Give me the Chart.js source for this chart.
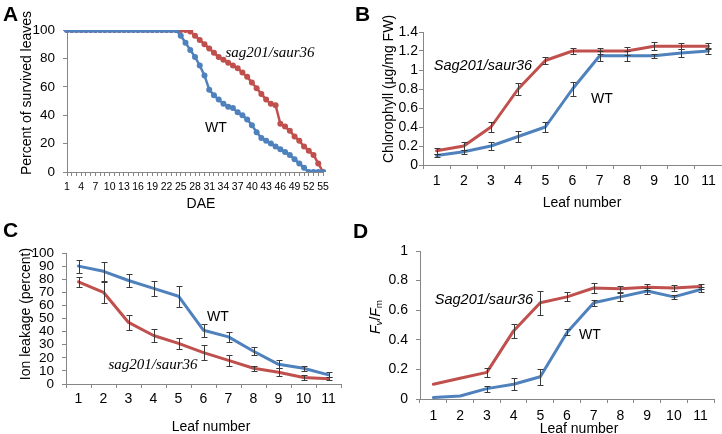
<!DOCTYPE html>
<html>
<head>
<meta charset="utf-8">
<script src="https://cdn.jsdelivr.net/npm/chart.js@4.4.1/dist/chart.umd.min.js"></script>
<style>
  body { margin: 0; width: 722px; height: 434px; background: #fff; position: relative; overflow: hidden;
         font-family: Arial, "Liberation Sans", sans-serif; color: #000; }
  canvas { position: absolute; }
  .t { position: absolute; white-space: nowrap; line-height: 1; transform: translate(-50%, -50%); font-size: 14px; }
  .rot { transform: translate(-50%, -50%) rotate(-90deg); }
  .letter { position: absolute; font-weight: bold; font-size: 21px; line-height: 1; }
  .serif { font-family: "Liberation Serif", "Times New Roman", serif; font-style: italic; font-size: 15px; }
  .ital { font-style: italic; font-size: 14.5px; }
  sub { font-size: 70%; vertical-align: -0.25em; line-height: 0; }
</style>
</head>
<body>

<canvas id="chartA" width="361" height="217" style="left:0;top:0"></canvas>
<canvas id="chartB" width="361" height="217" style="left:361px;top:0"></canvas>
<canvas id="chartC" width="361" height="217" style="left:0;top:217px"></canvas>
<canvas id="chartD" width="361" height="217" style="left:361px;top:217px"></canvas>

<!-- panel letters -->
<div class="letter" style="left:3px;top:3px">A</div>
<div class="letter" style="left:355px;top:3px">B</div>
<div class="letter" style="left:3px;top:219px">C</div>
<div class="letter" style="left:353px;top:220px">D</div>

<!-- axis titles -->
<div class="t rot" style="left:26px;top:93px">Percent of survived leaves</div>
<div class="t" style="left:201px;top:203px">DAE</div>
<div class="t rot" style="left:388px;top:89px">Chlorophyll (µg/mg FW)</div>
<div class="t" style="left:582px;top:202px">Leaf number</div>
<div class="t rot" style="left:25px;top:314px">Ion leakage (percent)</div>
<div class="t" style="left:211px;top:426px">Leaf number</div>
<div class="t rot" style="left:375px;top:317px"><i>F</i><sub><i>v</i></sub>/<i>F</i><sub>m</sub></div>
<div class="t" style="left:579px;top:428px">Leaf number</div>

<!-- series labels -->
<div class="t serif" style="left:270px;top:52px">sag201/saur36</div>
<div class="t" style="left:216px;top:127px">WT</div>
<div class="t ital" style="left:483px;top:65px">Sag201/saur36</div>
<div class="t" style="left:602px;top:98px">WT</div>
<div class="t" style="left:218px;top:316px">WT</div>
<div class="t serif" style="left:153px;top:364px">sag201/saur36</div>
<div class="t ital" style="left:484px;top:299px">Sag201/saur36</div>
<div class="t" style="left:590px;top:334px">WT</div>

<script>
// Colours
const RED = '#C0504D';
const BLUE = '#4F81BD';
const AXIS_GRAY = '#868686';
const FONT = 'Arial, "Liberation Sans", sans-serif';

// Panel A - percent of survived leaves vs DAE
const daysA = [1, 2, 3, 4, 5, 6, 7, 8, 9, 10, 11, 12, 13, 14, 15, 16, 17, 18, 19, 20,
    21, 22, 23, 24, 25, 26, 27, 28, 29, 30, 31, 32, 33, 34, 35, 36, 37, 38, 39, 40,
    41, 42, 43, 44, 45, 46, 47, 48, 49, 50, 51, 52, 53, 54, 55];
const mutantA = [100, 100, 100, 100, 100, 100, 100, 100, 100, 100, 100, 100, 100, 100, 100,
    100, 100, 100, 100, 100, 100, 100, 100, 100, 100, 100, 99, 96, 93, 90,
    87, 84, 81, 79, 77, 75, 73, 70, 67, 63, 59, 55, 51, 48, 47,
    34, 32, 29, 25, 22, 18, 15, 12, 6, 0];
const wtA = [100, 100, 100, 100, 100, 100, 100, 100, 100, 100, 100, 100, 100, 100, 100,
    100, 100, 100, 100, 100, 100, 100, 100, 100, 96, 91, 86, 81, 75, 68,
    58, 54, 51, 48, 46, 45, 42, 40, 37, 33, 28, 24, 22, 20, 18,
    16, 14, 12, 9, 6, 3, 0, 0, 0, 0];

// Shared leaf number axis for B, C, D
const leaves = ['1', '2', '3', '4', '5', '6', '7', '8', '9', '10', '11'];

// Panel B - chlorophyll
const mutantB = [0.15, 0.2, 0.4, 0.8, 1.1, 1.2, 1.2, 1.2, 1.25, 1.25, 1.25];
const mutantBErr = [0.03, 0.04, 0.05, 0.06, 0.04, 0.03, 0.03, 0.04, 0.04, 0.03, 0.03];
const wtB = [0.1, 0.14, 0.2, 0.3, 0.4, 0.8, 1.15, 1.15, 1.15, 1.18, 1.2];
const wtBErr = [0.02, 0.02, 0.04, 0.06, 0.05, 0.07, 0.05, 0.05, 0.02, 0.04, 0.03];

// Panel C - ion leakage
const wtC = [90, 86, 79, 73, 67, 41, 36, 25, 15, 12, 7];
const wtCErr = [5, 7, 5, 6, 8, 5, 4, 3, 3, 2, 2];
const mutantC = [78, 70, 47, 37, 31, 24, 18, 12, 9, 5, 4];
const mutantCErr = [4, 8, 6, 5, 4, 6, 4, 2, 3, 2, 1];

// Panel D - Fv/Fm
const mutantD = [0.10, 0.14, 0.18, 0.46, 0.65, 0.69, 0.75, 0.745, 0.755, 0.75, 0.76];
const mutantDErr = [0, 0, 0.03, 0.05, 0.08, 0.03, 0.035, 0.02, 0.02, 0.02, 0.02];
const wtD = [0.01, 0.02, 0.07, 0.10, 0.15, 0.45, 0.65, 0.69, 0.73, 0.69, 0.74];
const wtDErr = [0, 0, 0.02, 0.04, 0.055, 0.02, 0.02, 0.025, 0.02, 0.015, 0.02];

/**
 * Draws vertical error bars with caps from dataset.errors
 */
const errorBarPlugin = {
    id: 'errorBars',
    afterDatasetsDraw(chart) {
        const ctx = chart.ctx;
        const yScale = chart.scales.y;
        ctx.save();
        ctx.strokeStyle = '#3a3a3a';
        ctx.lineWidth = 1;
        chart.data.datasets.forEach((ds, i) => {
            if (!ds.errors) return;
            const meta = chart.getDatasetMeta(i);
            meta.data.forEach((pt, j) => {
                const err = ds.errors[j];
                if (!err) return;
                const v = ds.data[j];
                const x = Math.round(pt.x) + 0.5;
                const yTop = Math.round(yScale.getPixelForValue(v + err)) + 0.5;
                const yBot = Math.round(yScale.getPixelForValue(v - err)) + 0.5;
                ctx.beginPath();
                ctx.moveTo(x, yTop); ctx.lineTo(x, yBot);
                ctx.moveTo(x - 3, yTop); ctx.lineTo(x + 3, yTop);
                ctx.moveTo(x - 3, yBot); ctx.lineTo(x + 3, yBot);
                ctx.stroke();
            });
        });
        ctx.restore();
    }
};

/**
 * Build a line chart config for one panel
 */
function panelConfig(p) {
    return {
        type: 'line',
        data: { labels: p.labels, datasets: p.datasets },
        options: {
            responsive: false,
            animation: false,
            devicePixelRatio: 1,
            layout: { padding: { left: 0, top: p.top, right: p.right, bottom: 0 } },
            plugins: { legend: { display: false }, tooltip: { enabled: false } },
            elements: { line: { tension: 0, borderJoinStyle: 'round', borderCapStyle: 'round' } },
            scales: {
                x: {
                    type: 'category',
                    offset: p.offset,
                    grid: { display: true, drawOnChartArea: false, drawTicks: true, tickLength: 4,
                            color: AXIS_GRAY, offset: p.offset },
                    border: { color: AXIS_GRAY, width: 1 },
                    ticks: { color: '#000', font: { family: FONT, size: p.xFont },
                             autoSkip: false, maxRotation: 0, minRotation: 0,
                             padding: p.xPad, callback: p.xCallback },
                    afterFit: s => { s.height = p.xHeight; }
                },
                y: {
                    min: p.yMin, max: p.yMax,
                    grid: { display: true, drawOnChartArea: false, drawTicks: true, tickLength: 4,
                            color: AXIS_GRAY },
                    border: { color: AXIS_GRAY, width: 1 },
                    ticks: { stepSize: p.yStep, autoSkip: false, color: '#000',
                             font: { family: FONT, size: p.yFont },
                             padding: p.yPad, callback: v => String(+v.toFixed(1)) },
                    afterFit: s => { s.width = p.yWidth; }
                }
            }
        },
        plugins: [errorBarPlugin]
    };
}

function series(data, color, extra) {
    return Object.assign({
        data: data,
        borderColor: color,
        backgroundColor: color,
        borderWidth: 3,
        pointRadius: 0,
        fill: false
    }, extra || {});
}

const leafLabel = (v, i) => leaves[i];

// Panel A
new Chart(document.getElementById('chartA'), panelConfig({
    labels: daysA,
    datasets: [
        series(wtA, BLUE, { borderWidth: 2.5, pointRadius: 3, pointBorderWidth: 0 }),
        series(mutantA, RED, { borderWidth: 2.5, pointRadius: 3, pointBorderWidth: 0 })
    ],
    top: 30, right: 38, offset: false,
    xFont: 10.5, xPad: 5, xHeight: 45,
    xCallback: (v, i) => (i % 3 === 0 ? String(daysA[i]) : ''),
    yMin: 0, yMax: 100, yStep: 20, yFont: 13.5, yPad: 8, yWidth: 67
}));

// Panel B
new Chart(document.getElementById('chartB'), panelConfig({
    labels: leaves,
    datasets: [
        series(wtB, BLUE, { errors: wtBErr }),
        series(mutantB, RED, { errors: mutantBErr })
    ],
    top: 32, right: 0, offset: true,
    xFont: 14, xPad: 4, xHeight: 52, xCallback: leafLabel,
    yMin: 0, yMax: 1.4, yStep: 0.2, yFont: 14, yPad: 1, yWidth: 62
}));

// Panel C
new Chart(document.getElementById('chartC'), panelConfig({
    labels: leaves,
    datasets: [
        series(wtC, BLUE, { errors: wtCErr }),
        series(mutantC, RED, { errors: mutantCErr })
    ],
    top: 36, right: 20, offset: true,
    xFont: 14, xPad: 3, xHeight: 50, xCallback: leafLabel,
    yMin: 0, yMax: 100, yStep: 10, yFont: 13.5, yPad: 8, yWidth: 66
}));

// Panel D
new Chart(document.getElementById('chartD'), panelConfig({
    labels: leaves,
    datasets: [
        series(wtD, BLUE, { errors: wtDErr }),
        series(mutantD, RED, { errors: mutantDErr })
    ],
    top: 34, right: 8, offset: true,
    xFont: 14, xPad: 5, xHeight: 35, xCallback: leafLabel,
    yMin: 0, yMax: 1, yStep: 0.2, yFont: 14, yPad: 8, yWidth: 59
}));
</script>
</body>
</html>
